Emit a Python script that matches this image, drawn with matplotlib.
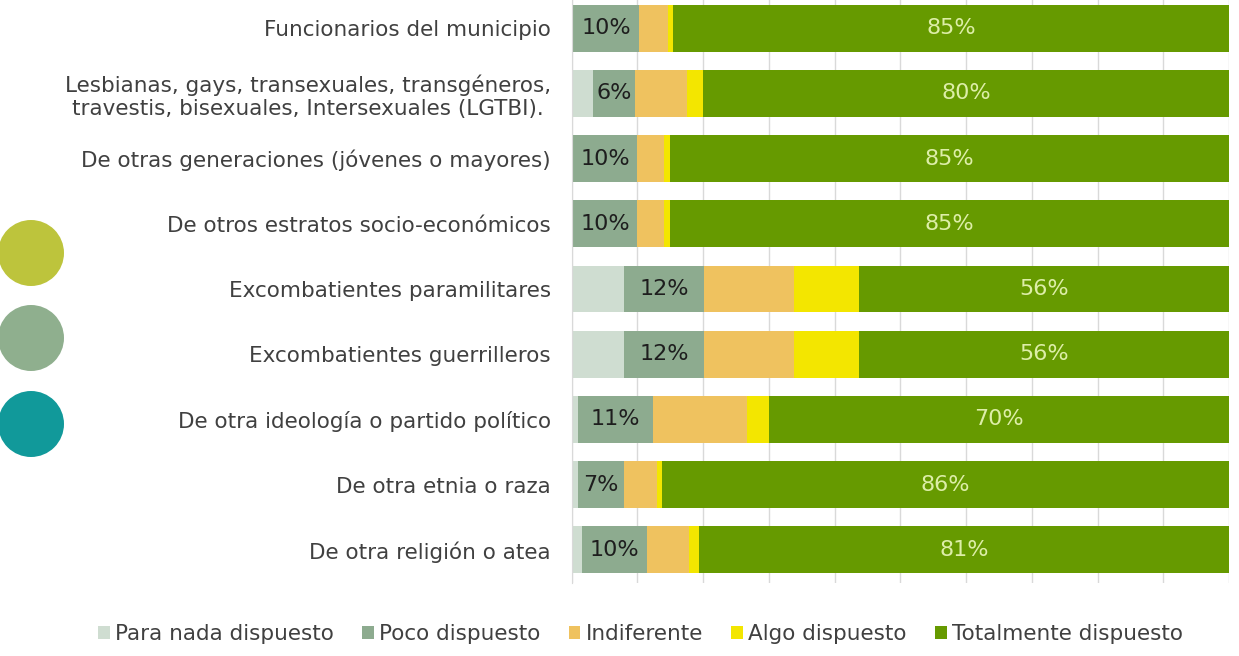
import matplotlib
matplotlib.use("Agg")
import matplotlib.pyplot as plt
import numpy as np
from matplotlib.patches import Circle, Patch
from matplotlib.transforms import IdentityTransform

categories = [
    "Funcionarios del municipio",
    "Lesbianas, gays, transexuales, transgéneros,\ntravestis, bisexuales, Intersexuales (LGTBI).",
    "De otras generaciones (jóvenes o mayores)",
    "De otros estratos socio-económicos",
    "Excombatientes paramilitares",
    "Excombatientes guerrilleros",
    "De otra ideología o partido político",
    "De otra etnia o raza",
    "De otra religión o atea",
]
series_names = ["Para nada dispuesto", "Poco dispuesto", "Indiferente",
                "Algo dispuesto", "Totalmente dispuesto"]
para_nada = [0.2, 3.3, 0.1, 0.1, 8.0, 8.0, 1.0, 1.0, 1.6]
poco = [10.1, 6.4, 9.9, 9.9, 12.1, 12.1, 11.3, 7.0, 9.8]
indiferente = [4.3, 7.9, 4.0, 4.0, 13.7, 13.7, 14.4, 5.0, 6.4]
algo = [0.8, 2.4, 0.9, 0.9, 9.9, 9.9, 3.3, 0.8, 1.5]
totalmente = [84.6, 80.0, 85.1, 85.1, 56.3, 56.3, 70.0, 86.2, 80.7]

colors = ["#CFDDD1", "#8DAB8F", "#EFC25F", "#F3E600", "#669A00"]
circle_colors = ["#BDC43C", "#8FAF8E", "#11999A"]

plt.rcParams["font.family"] = ["DejaVu Sans"]

fig = plt.figure(figsize=(12.39, 6.56), dpi=100)
W, H = 1239, 656
ax = fig.add_axes([571.7 / W, 1 - 582.6 / H, (1229 - 571.7) / W, (582.6 + 4.6) / H])

y = np.arange(len(categories))
series = [para_nada, poco, indiferente, algo, totalmente]
left = np.zeros(len(categories))
containers = []
for vals, col, name in zip(series, colors, series_names):
    c = ax.barh(y, vals, left=left, height=0.72, color=col, label=name, zorder=2)
    containers.append(c)
    left += np.array(vals)

ax.bar_label(containers[1], labels=[f"{v:.0f}%" for v in poco], label_type="center",
             color="#1E1E1E", fontsize=16)
ax.bar_label(containers[4], labels=[f"{v:.0f}%" for v in totalmente], label_type="center",
             color="#DDEEA8", fontsize=16)

ax.set_xlim(0, 100)
ax.set_ylim(len(categories) - 0.5, -0.5)
ax.set_xticks(np.arange(0, 101, 10))
ax.set_xticklabels([])
ax.tick_params(axis="x", length=0)
ax.grid(axis="x", color="#D9D9D9", linewidth=1, zorder=0)
ax.set_axisbelow(True)
ax.set_yticks(y)
ax.set_yticklabels(categories, fontsize=15.5, color="#404040")
for lbl in ax.get_yticklabels():
    lbl.set_multialignment("center")
ax.tick_params(axis="y", length=0, pad=15)
for s in ["top", "right", "bottom"]:
    ax.spines[s].set_visible(False)
ax.spines["left"].set_color("#D9D9D9")

handles = [Patch(facecolor=c, edgecolor="none") for c in colors]
leg = fig.legend(handles, series_names, loc="center", bbox_to_anchor=(0.517, 0.0335),
                 ncol=5, frameon=False, fontsize=15.5, handlelength=0.55, handleheight=0.55,
                 handletextpad=0.25, columnspacing=1.3, borderaxespad=0)
for t in leg.get_texts():
    t.set_color("#404040")

for cy, cc in zip([253, 338, 424], circle_colors):
    fig.add_artist(Circle((31, H - cy), 33, transform=IdentityTransform(),
                          facecolor=cc, edgecolor="none"))

fig.savefig("out.png", dpi=100)
